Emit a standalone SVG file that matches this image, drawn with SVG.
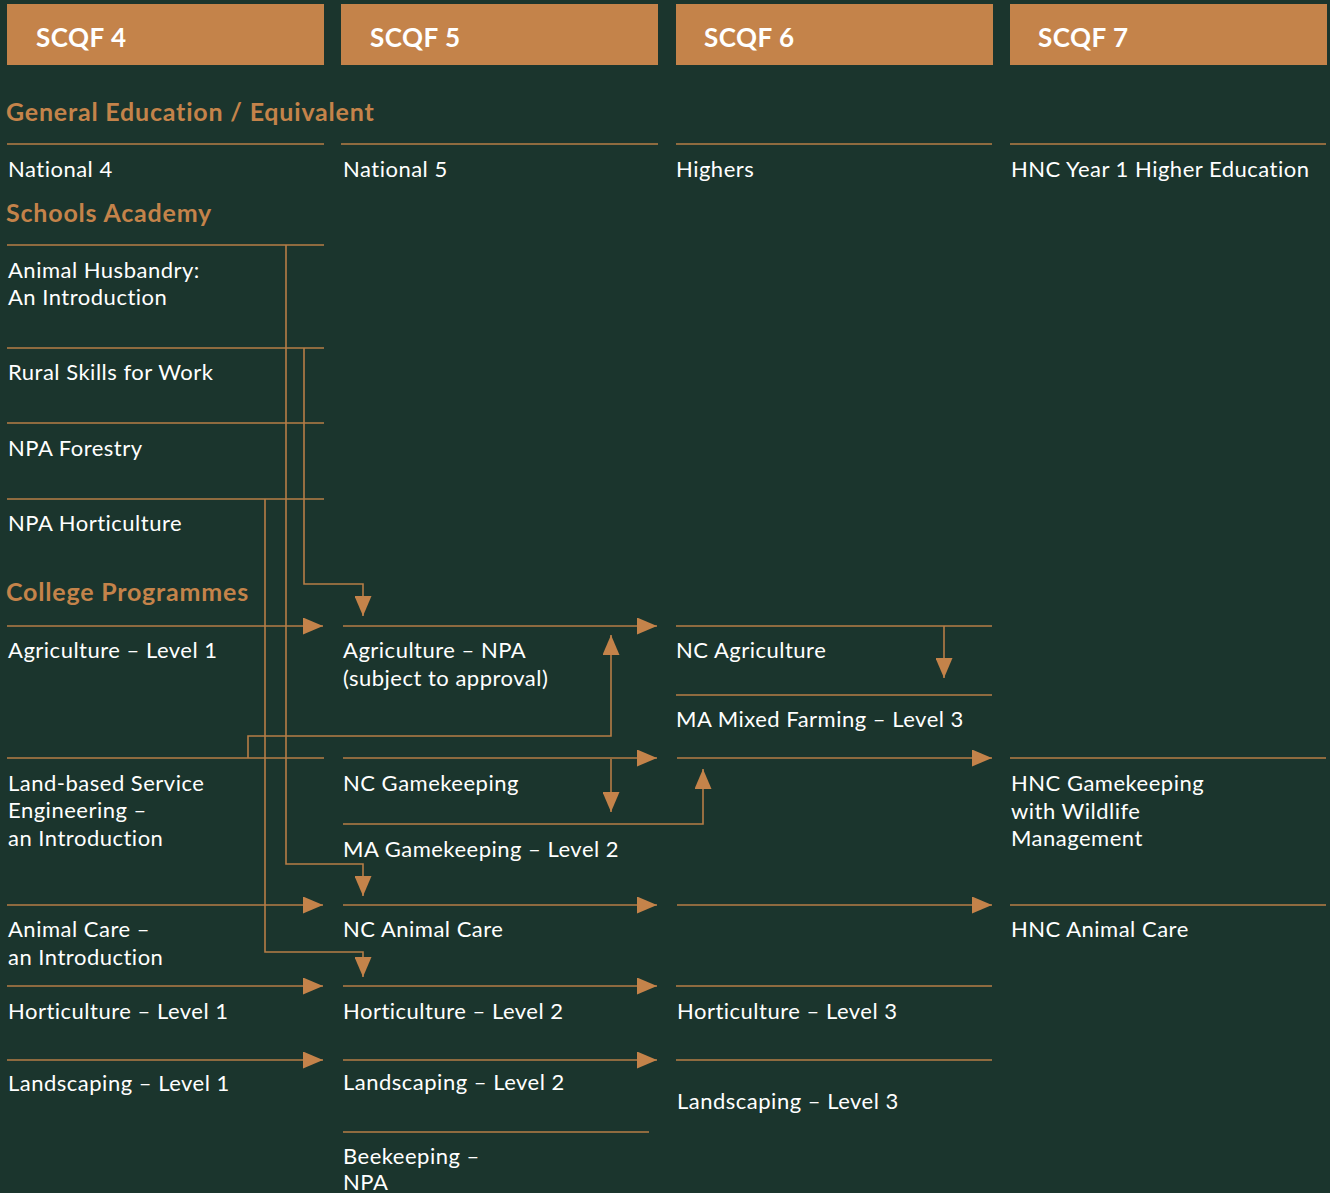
<svg xmlns="http://www.w3.org/2000/svg" width="1330" height="1193" viewBox="0 0 1330 1193">
<defs>
<style>
.bg{fill:#1b352d}
.hdr{fill:#c4834a}
.ht{font-family:Lato,"Liberation Sans",sans-serif;font-weight:bold;font-size:26px;letter-spacing:0.5px;fill:#ffffff}
.sec{font-family:Lato,"Liberation Sans",sans-serif;font-weight:bold;font-size:25px;letter-spacing:0.8px;fill:#c4834a}
.t{font-family:Lato,"Liberation Sans",sans-serif;font-size:22px;letter-spacing:0.5px;fill:#ffffff}
.ln{stroke:#b67d46;stroke-width:1.6;fill:none}
</style>
<marker id="ah" viewBox="0 0 20 17" refX="20" refY="8.5" markerWidth="20" markerHeight="17" orient="auto" markerUnits="userSpaceOnUse">
<path d="M0,0 L20,8.5 L0,17 Z" fill="#c4834a"/>
</marker>
</defs>
<rect class="bg" x="0" y="0" width="1330" height="1193"/>

<g id="headers">
<g id="h4"><rect class="hdr" x="7" y="4" width="317" height="61"/><text class="ht" x="36" y="47">SCQF 4</text></g>
<g id="h5"><rect class="hdr" x="341" y="4" width="317" height="61"/><text class="ht" x="370" y="47">SCQF 5</text></g>
<g id="h6"><rect class="hdr" x="676" y="4" width="317" height="61"/><text class="ht" x="704" y="47">SCQF 6</text></g>
<g id="h7"><rect class="hdr" x="1010" y="4" width="317" height="61"/><text class="ht" x="1038" y="47">SCQF 7</text></g>
</g>

<g id="sections">
<text class="sec" x="6" y="121">General Education / Equivalent</text>
<text class="sec" x="6" y="222">Schools Academy</text>
<text class="sec" x="6" y="601">College Programmes</text>
</g>

<g id="connectors">
<path class="ln" d="M7,144H324M341,144H658M676,144H992M1010,144H1326"/>
<path class="ln" d="M7,245H324M7,348H324M7,423H324M7,499H324"/>
<path class="ln" d="M676,626H992M676,695H992M7,758H324M1010,758H1326M1010,905H1326M676,986H992M676,1060H992M343,1132H649"/>
<path class="ln" marker-end="url(#ah)" d="M7,626H323"/>
<path class="ln" marker-end="url(#ah)" d="M343,626H657"/>
<path class="ln" marker-end="url(#ah)" d="M944,626V678"/>
<path class="ln" marker-end="url(#ah)" d="M343,758H657"/>
<path class="ln" marker-end="url(#ah)" d="M677,758H992"/>
<path class="ln" marker-end="url(#ah)" d="M611,759V812"/>
<path class="ln" marker-end="url(#ah)" d="M343,824H703V769"/>
<path class="ln" marker-end="url(#ah)" d="M248,758V736H611V635"/>
<path class="ln" marker-end="url(#ah)" d="M286,245V864H363V896"/>
<path class="ln" marker-end="url(#ah)" d="M304,348V584H363V616"/>
<path class="ln" marker-end="url(#ah)" d="M265,499V952H363V977"/>
<path class="ln" marker-end="url(#ah)" d="M7,905H323"/>
<path class="ln" marker-end="url(#ah)" d="M343,905H657"/>
<path class="ln" marker-end="url(#ah)" d="M677,905H992"/>
<path class="ln" marker-end="url(#ah)" d="M7,986H323"/>
<path class="ln" marker-end="url(#ah)" d="M343,986H657"/>
<path class="ln" marker-end="url(#ah)" d="M7,1060H323"/>
<path class="ln" marker-end="url(#ah)" d="M343,1060H657"/>
</g>

<g id="n-national4"><text class="t" x="8" y="177">National 4</text></g>
<g id="n-national5"><text class="t" x="343" y="177">National 5</text></g>
<g id="n-highers"><text class="t" x="676" y="177">Highers</text></g>
<g id="n-hnc-year1"><text class="t" x="1011" y="177">HNC Year 1 Higher Education</text></g>

<g id="n-animal-husbandry"><text class="t" x="8" y="278">Animal Husbandry:</text><text class="t" x="8" y="305">An Introduction</text></g>
<g id="n-rural-skills"><text class="t" x="8" y="380">Rural Skills for Work</text></g>
<g id="n-npa-forestry"><text class="t" x="8" y="456">NPA Forestry</text></g>
<g id="n-npa-horticulture"><text class="t" x="8" y="531">NPA Horticulture</text></g>

<g id="n-agri-l1"><text class="t" x="8" y="658">Agriculture – Level 1</text></g>
<g id="n-agri-npa"><text class="t" x="343" y="658">Agriculture – NPA</text><text class="t" x="343" y="686">(subject to approval)</text></g>
<g id="n-nc-agri"><text class="t" x="676" y="658">NC Agriculture</text></g>
<g id="n-ma-mixed"><text class="t" x="676" y="727">MA Mixed Farming – Level 3</text></g>

<g id="n-land-based"><text class="t" x="8" y="791">Land-based Service</text><text class="t" x="8" y="818">Engineering –</text><text class="t" x="8" y="846">an Introduction</text></g>
<g id="n-nc-game"><text class="t" x="343" y="791">NC Gamekeeping</text></g>
<g id="n-hnc-game"><text class="t" x="1011" y="791">HNC Gamekeeping</text><text class="t" x="1011" y="819">with Wildlife</text><text class="t" x="1011" y="846">Management</text></g>
<g id="n-ma-game"><text class="t" x="343" y="857">MA Gamekeeping – Level 2</text></g>

<g id="n-animal-care"><text class="t" x="8" y="937">Animal Care –</text><text class="t" x="8" y="965">an Introduction</text></g>
<g id="n-nc-animal"><text class="t" x="343" y="937">NC Animal Care</text></g>
<g id="n-hnc-animal"><text class="t" x="1011" y="937">HNC Animal Care</text></g>

<g id="n-hort-l1"><text class="t" x="8" y="1019">Horticulture – Level 1</text></g>
<g id="n-hort-l2"><text class="t" x="343" y="1019">Horticulture – Level 2</text></g>
<g id="n-hort-l3"><text class="t" x="677" y="1019">Horticulture – Level 3</text></g>

<g id="n-land-l1"><text class="t" x="8" y="1091">Landscaping – Level 1</text></g>
<g id="n-land-l2"><text class="t" x="343" y="1090">Landscaping – Level 2</text></g>
<g id="n-land-l3"><text class="t" x="677" y="1109">Landscaping – Level 3</text></g>
<g id="n-beekeeping"><text class="t" x="343" y="1164">Beekeeping –</text><text class="t" x="343" y="1190">NPA</text></g>
</svg>
